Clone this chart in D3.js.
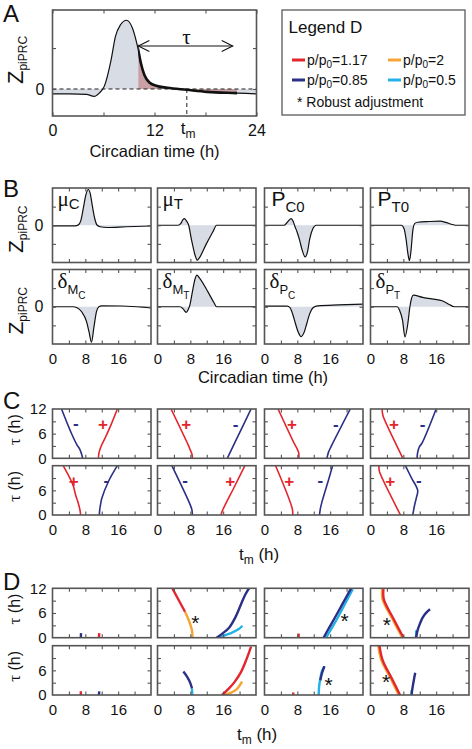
<!DOCTYPE html>
<html><head><meta charset="utf-8">
<script src="https://cdn.jsdelivr.net/npm/d3@7"></script>
<style>body{margin:0;background:#fff}svg{display:block}</style>
</head><body><svg id="fig" width="472" height="749"></svg>
<script>
// ================= DATA =================
// Panel A : example piPRC
const aTime = [0,2,4,4.9,5.5,6.1,6.9,7.4,8.0,8.7,9.4,10.0,10.4,10.8,11.4,12.2,13.5,15.8,18.2,21.7,24];
const aZ    = [-0.12,-0.12,-0.13,-0.18,-0.1,0.07,0.72,1.28,1.57,1.68,1.49,1.04,0.63,0.35,0.16,0.08,0.03,-0.02,-0.07,-0.1,-0.12];
const aTauStart = 10.1, aTauEnd = 21.2, aFillEnd = 21.7, aTm = 15.8, aArrowLevel = 1.05;
const aXTicks = [0,6,12,18,24], aXLabels = [0,12,24], aYTicks = [0,1];

// Panel B : piPRCs per parameter  [t, z]
const bMuC     = [[0,-0.03],[5.5,-0.03],[6.3,0.02],[6.9,0.25],[7.5,0.9],[8.1,1.6],[8.7,1.92],[9.2,1.7],[9.7,1.05],[10.3,0.35],[10.9,0.0],[11.6,-0.08],[13.3,-0.12],[18,-0.08],[24,-0.04]];
const bMuT     = [[0,0],[5,0],[5.7,0.1],[6.2,0.3],[6.6,0.36],[7.0,0.25],[7.6,0],[8.25,-0.75],[8.7,-1.2],[9.1,-1.57],[9.7,-1.87],[10.2,-1.75],[11.9,-1.0],[13.5,-0.35],[14.4,0],[24,0]];
const bPC0     = [[0,0],[4.8,0],[5.5,0.15],[6.5,0.36],[7.0,0.2],[7.4,-0.05],[8.0,-0.4],[8.5,-0.76],[9.2,-1.35],[9.9,-1.7],[10.5,-1.4],[11.0,-0.76],[11.8,-0.18],[12.6,0],[24,0]];
const bPT0     = [[0,0],[7.5,0],[8.2,-0.2],[8.7,-0.8],[9.1,-1.5],[9.5,-1.9],[9.9,-1.3],[10.3,-0.3],[10.8,0.1],[11.5,0.16],[14.3,0.2],[17,0.22],[18.5,0.14],[20,0.04],[21,0],[24,0]];
const bDeltaMC = [[0,0],[5,0],[6,-0.05],[7.1,-0.27],[8.3,-0.8],[8.9,-1.35],[9.5,-1.9],[10.1,-1.08],[10.7,-0.27],[11.3,0],[12,0.05],[17,0.04],[22,-0.02],[24,-0.06]];
const bDeltaMT = [[0,0],[5.5,0],[6.2,-0.1],[7.0,-0.3],[7.5,-0.15],[7.9,0.1],[8.5,0.8],[9.1,1.45],[9.6,1.7],[10.2,1.55],[12.3,0.8],[13.8,0.2],[14.4,0],[24,0]];
const bDeltaPC = [[0,0.03],[5.5,0.03],[6.2,-0.05],[6.8,-0.35],[7.3,-0.72],[8.2,-1.35],[8.9,-1.6],[9.7,-1.35],[10.3,-0.9],[10.9,-0.45],[11.9,-0.04],[13,0.05],[18,0.1],[24,0.14]];
const bDeltaPT = [[0,0],[6.5,0],[7.1,-0.2],[7.8,-0.72],[8.4,-1.62],[9.1,-0.9],[9.6,0],[10.0,0.45],[10.4,0.62],[12.7,0.5],[15,0.42],[17.6,0.31],[19.2,0.12],[20.4,0],[24,0]];
const bSymbol  = ["μ","μ","P","P","δ","δ","δ","δ"];
const bSub     = ["C","T","C0","T0","M","M","P","P"];
const bSubSub  = ["","","","","C","T","C","T"];
const bXTicks = [4,8,12,16,20], bXLabels = [0,8,16], bYTicks = [-1,0,1];

// Panel C : [t_m, tau] curves for + (red) and - (blue) pulses
const cRed = [
  [[11.2,0],[11.3,1.2],[11.8,2.8],[12.8,4.9],[14.2,8],[15.8,12]],
  [[8.5,0],[8.4,1],[8.0,2],[7.5,3.2],[3.3,12]],
  [[8.4,0],[8.3,1.5],[7.8,2.6],[7.4,3.3],[3.3,12]],
  [[7.9,0],[3.1,10.2],[2.9,11],[2.85,12]],
  [[6.85,0],[6.7,1.2],[6.3,2.8],[5.6,5],[5.0,7.3],[2.6,12]],
  [[15.5,0],[15.8,1],[18.8,7],[21.3,12]],
  [[6.9,0],[6.75,1.6],[2.7,12]],
  [[7.3,0],[2.3,10.2],[2.1,11],[2.05,12]]
];
const cBlue = [
  [[7.35,0],[7.1,1],[6.6,2.3],[6.0,3.2],[4.6,6.1],[2.2,12]],
  [[17.0,0],[19.9,6],[22.8,12]],
  [[15.2,0],[15.6,1.5],[16.3,3],[20.9,12]],
  [[11.35,0],[11.5,1.5],[11.9,2.8],[12.5,3.6],[16.0,12]],
  [[11.4,0],[11.5,1.2],[11.7,2.5],[12.0,4],[13.6,8.1],[15.8,12]],
  [[8.5,0],[8.4,1.2],[8.0,2.4],[3.5,12]],
  [[13.4,0],[13.6,1.5],[14.0,3.2],[15.7,8.9],[16.6,12]],
  [[10.3,0],[10.7,2.2],[11.2,4.3],[11.5,6],[10.0,9],[8.5,12]]
];
const cPlus  = [[12.3,8.3],[7.0,8.3],[6.7,8.3],[5.7,8.3],[5.2,8.3],[17.7,8.3],[6.0,8.3],[4.8,8.3]];
const cMinus = [[5.7,8.3],[19.0,8.1],[17.4,8.1],[12.7,8.1],[13.1,8.3],[6.7,8.3],[13.6,8.3],[11.8,8.3]];
const tauTicks = [3,6,9], tauLabelsTop = [0,6,12], tauLabelsBottom = [0,6];

// Panel D : [t_m, tau] curves for each p/p0
const dRed = [
  [[11.3,0],[11.4,1.1]],
  [[3.6,12],[6.7,6.3]],
  [[8.3,0],[8.3,1]],
  [[3.15,11.8],[3.25,9.3],[5.6,4.6],[8.05,0]],
  [[6.9,0],[6.9,0.9]],
  [[15.7,0],[17.3,1.5],[18.8,3.2],[20.3,5.5],[21.6,8.5],[22.8,11.8]],
  [[7.0,0],[7.0,0.6]],
  [[2.15,12.2],[2.95,8.5],[5.05,4.3],[7.2,0]]
];
const dOrange = [
  null,
  [[6.7,6.3],[7.6,4.3],[8.3,2.2],[8.5,1],[8.5,0]],
  null,
  [[2.85,11.8],[2.95,9.3],[5.3,4.6],[7.75,0]],
  null,
  [[16.0,0],[17.8,0.5],[19.2,1.3],[20.2,2.6],[20.6,3.3]],
  null,
  [[1.85,12.2],[2.65,8.5],[4.75,4.3],[6.9,0]]
];
const dNavy = [
  [[6.9,0],[6.95,1.1]],
  [[14.4,0],[15.8,1],[17.5,2.5],[19,5],[20.3,8],[21.4,10.5],[22.3,12]],
  [[14.4,0],[15.5,2],[17,4.6],[19,8.2],[21.1,12]],
  [[11.1,0],[11.5,1.9],[12.0,3.3],[12.7,4.9],[13.6,6.1],[14.5,6.9]],
  [[11.3,0],[11.4,0.9]],
  [[6.3,5.7],[7.3,4.3],[8.0,2.9],[8.4,1.6]],
  [[13.6,3.6],[14.0,5.3],[14.6,7]],
  [[10.0,0],[10.2,1.5],[10.5,3.3],[10.9,5.4]]
];
const dCyan = [
  null,
  [[14.9,0],[16.5,0.6],[18.3,1.3],[19.8,2.1],[20.7,2.9]],
  [[15.0,0],[16.2,2],[17.7,4.6],[19.6,8.2],[21.5,11.8]],
  [[11.1,0],[11.15,1.8]],
  null,
  [[8.4,1.6],[8.5,0]],
  [[13.2,0],[13.3,2],[13.6,4],[14.0,5.8],[14.6,7]],
  [[10.0,0],[10.05,1.2]]
];
const dStar = [null,[9.2,4.5],[19.5,5.1],[4.0,4.1],null,null,[15.6,3.4],[3.8,4.1]];

// Legend D
const legendValues = ["1.17","2","0.85","0.5"];
const legendKeys   = ["red","orange","navy","cyan"];

// ================= STYLE / LAYOUT =================
const COLORS = {red:"#e3262d", orange:"#f4a535", navy:"#2b2f86", cyan:"#22b2e8"};
const SANS = "'Liberation Sans', Arial, Helvetica, sans-serif";
const SERIF = "'Liberation Serif', 'Times New Roman', serif";
const FRAME = "#555";
const GREY_FILL = "#d8dce5";
const RED_FILL = "#c9a0a3";
const COL_X = [52.5, 157.5, 264.5, 370.5], COL_W = 98.5;
const B_ROWS = [[188,262.5],[269.5,344]];
const C_ROWS = [[409,458.3],[465.7,515]];
const D_ROWS = [[588.3,637.7],[645.7,695]];

const svg = d3.select("#fig");
svg.append("rect").attr("width",472).attr("height",749).attr("fill","#fff");
let clipId = 0;

function makePanel(x0, y0, w, h, xd, yd) {
  const x = d3.scaleLinear().domain(xd).range([x0, x0 + w]);
  const y = d3.scaleLinear().domain(yd).range([y0 + h, y0]);
  const id = "clip" + (clipId++);
  svg.append("clipPath").attr("id", id).append("rect").attr("x", x0).attr("y", y0).attr("width", w).attr("height", h);
  const g = svg.append("g").attr("clip-path", `url(#${id})`);
  return {x, y, x0, y0, w, h, g};
}
function drawFrame(p, xt, yt) {
  const g = svg.append("g");
  const axes = [
    [d3.axisBottom(p.x).tickValues(xt), `translate(0,${p.y0 + p.h})`],
    [d3.axisTop(p.x).tickValues(xt), `translate(0,${p.y0})`],
    [d3.axisLeft(p.y).tickValues(yt), `translate(${p.x0},0)`],
    [d3.axisRight(p.y).tickValues(yt), `translate(${p.x0 + p.w},0)`]
  ];
  axes.forEach(([ax, tr]) => {
    g.append("g").attr("transform", tr).call(ax.tickSize(-3.5).tickFormat(""))
      .call(s => { s.select(".domain").remove(); s.selectAll("line").attr("stroke", FRAME).attr("stroke-width", 1.1); });
  });
  g.append("rect").attr("x", p.x0).attr("y", p.y0).attr("width", p.w).attr("height", p.h)
    .attr("fill", "none").attr("stroke", FRAME).attr("stroke-width", 1.6);
}
function styleLabels(s, size) {
  s.select(".domain").remove();
  s.selectAll("text").attr("font-size", size).attr("font-family", SANS).attr("fill", "#111");
}
function xLabels(p, vals, pad, size) {
  svg.append("g").attr("transform", `translate(0,${p.y0 + p.h})`)
    .call(d3.axisBottom(p.x).tickValues(vals).tickSize(0).tickPadding(pad).tickFormat(d3.format("d")))
    .call(s => styleLabels(s, size));
}
function yLabels(p, vals, pad, size) {
  svg.append("g").attr("transform", `translate(${p.x0},0)`)
    .call(d3.axisLeft(p.y).tickValues(vals).tickSize(0).tickPadding(pad).tickFormat(d3.format("d")))
    .call(s => styleLabels(s, size));
}
function rotLabel(x, y, parts) {
  const t = svg.append("text").attr("transform", `translate(${x},${y}) rotate(-90)`)
    .attr("text-anchor", "middle").attr("font-family", SANS).attr("fill", "#111");
  parts.forEach(pt => {
    const s = t.append("tspan").text(pt.text).attr("font-size", pt.size);
    if (pt.dy) s.attr("dy", pt.dy);
    if (pt.family) s.attr("font-family", pt.family);
  });
}
function panelLetter(ch, x, y) {
  svg.append("text").attr("x", x).attr("y", y).attr("font-family", SANS).attr("font-size", 24).attr("fill", "#111").text(ch);
}

// ================= PANEL A =================
const aData = aTime.map((t, i) => [t, aZ[i]]);
const pA = makePanel(52.5, 10, 204, 106, [0, 24], [-0.66, 1.93]);
const areaA = d3.area().x(d => pA.x(d[0])).y0(pA.y(0)).y1(d => pA.y(d[1])).curve(d3.curveMonotoneX);
const lineA = d3.line().x(d => pA.x(d[0])).y(d => pA.y(d[1])).curve(d3.curveMonotoneX);
pA.g.append("path").datum(aData).attr("d", areaA).attr("fill", GREY_FILL);
svg.append("clipPath").attr("id", "clipAred").append("rect")
  .attr("x", pA.x(aTauStart)).attr("y", pA.y0).attr("width", pA.x(aFillEnd) - pA.x(aTauStart)).attr("height", pA.h);
pA.g.append("path").datum(aData).attr("d", areaA).attr("fill", RED_FILL).attr("clip-path", "url(#clipAred)");
pA.g.append("line").attr("x1", pA.x(0)).attr("x2", pA.x(24)).attr("y1", pA.y(0)).attr("y2", pA.y(0))
  .attr("stroke", "#222").attr("stroke-width", 1).attr("stroke-dasharray", "4,3");
pA.g.append("line").attr("x1", pA.x(aTm)).attr("x2", pA.x(aTm)).attr("y1", pA.y(0)).attr("y2", pA.y0 + pA.h)
  .attr("stroke", "#222").attr("stroke-width", 1).attr("stroke-dasharray", "4,3");
pA.g.append("path").datum(aData).attr("d", lineA).attr("fill", "none").attr("stroke", "#111").attr("stroke-width", 1.2);
pA.g.append("path").datum(aData).attr("d", lineA).attr("fill", "none").attr("stroke", "#111").attr("stroke-width", 2.6).attr("clip-path", "url(#clipAred)");
// tau arrow
{
  const ya = pA.y(aArrowLevel), xa = pA.x(aTauStart), xb = pA.x(aTauEnd);
  const ag = svg.append("g").attr("stroke", "#111").attr("stroke-width", 1.1).attr("fill", "none");
  ag.append("line").attr("x1", xa).attr("x2", xb).attr("y1", ya).attr("y2", ya);
  ag.append("path").attr("d", `M${xa + 11},${ya - 5.5}L${xa},${ya}L${xa + 11},${ya + 5.5}`);
  ag.append("path").attr("d", `M${xb - 11},${ya - 5.5}L${xb},${ya}L${xb - 11},${ya + 5.5}`);
  svg.append("text").attr("x", pA.x((aTauStart + aTauEnd) / 2) + 1).attr("y", ya - 2).attr("text-anchor", "middle")
    .attr("font-family", SERIF).attr("font-size", 21).attr("fill", "#111").text("τ");
}
drawFrame(pA, aXTicks, aYTicks);
xLabels(pA, aXLabels, 9, 16);
yLabels(pA, [0], 8, 16);
{
  const t = svg.append("text").attr("x", pA.x(aTm) - 6).attr("y", pA.y0 + pA.h + 18).attr("font-family", SANS).attr("fill", "#111");
  t.append("tspan").attr("font-size", 17).text("t");
  t.append("tspan").attr("font-size", 12).attr("dy", 3.5).text("m");
}
svg.append("text").attr("x", 154.5).attr("y", 157).attr("text-anchor", "middle").attr("font-family", SANS)
  .attr("font-size", 16.5).attr("fill", "#111").text("Circadian time (h)");
rotLabel(23, 60, [{text: "Z", size: 22}, {text: "piPRC", size: 12, dy: 4}]);
panelLetter("A", 3, 22);

// Legend
{
  const lg = svg.append("g");
  lg.append("rect").attr("x", 282).attr("y", 10).attr("width", 183).attr("height", 105)
    .attr("fill", "#fff").attr("stroke", "#666").attr("stroke-width", 1.4);
  lg.append("text").attr("x", 288.5).attr("y", 33).attr("font-family", SANS).attr("font-size", 17).attr("fill", "#111").text("Legend D");
  const pos = [[292, 60], [388, 60], [292, 80], [388, 80]];
  legendValues.forEach((v, i) => {
    const [lx, ly] = pos[i];
    lg.append("line").attr("x1", lx).attr("x2", lx + 13).attr("y1", ly).attr("y2", ly)
      .attr("stroke", COLORS[legendKeys[i]]).attr("stroke-width", 3);
    const t = lg.append("text").attr("x", lx + 15).attr("y", ly + 4.5).attr("font-family", SANS).attr("font-size", 14).attr("fill", "#111");
    t.append("tspan").text("p/p");
    t.append("tspan").attr("font-size", 10).attr("dy", 3).text("0");
    t.append("tspan").attr("dy", -3).text("=" + v);
  });
  lg.append("text").attr("x", 297).attr("y", 107).attr("font-family", SANS).attr("font-size", 14).attr("fill", "#111").text("* Robust adjustment");
}

// ================= PANEL B =================
const bCurves = [bMuC, bMuT, bPC0, bPT0, bDeltaMC, bDeltaMT, bDeltaPC, bDeltaPT];
bCurves.forEach((pts, i) => {
  const r = Math.floor(i / 4), c = i % 4;
  const p = makePanel(COL_X[c], B_ROWS[r][0], COL_W, B_ROWS[r][1] - B_ROWS[r][0], [0, 24], [-2, 2]);
  const area = d3.area().x(d => p.x(d[0])).y0(p.y(0)).y1(d => p.y(d[1])).curve(d3.curveMonotoneX);
  const line = d3.line().x(d => p.x(d[0])).y(d => p.y(d[1])).curve(d3.curveMonotoneX);
  p.g.append("path").datum(pts).attr("d", area).attr("fill", GREY_FILL);
  p.g.append("path").datum(pts).attr("d", line).attr("fill", "none").attr("stroke", "#111").attr("stroke-width", 1.2);
  drawFrame(p, bXTicks, bYTicks);
  // label
  const sym = bSymbol[i];
  const isGreek = sym !== "P";
  const t = svg.append("text").attr("x", p.x0 + (isGreek ? 5 : 7)).attr("y", p.y0 + 18)
    .attr("font-family", SANS).attr("fill", "#111");
  t.append("tspan").attr("font-family", isGreek ? SERIF : SANS).attr("font-size", 21).text(sym);
  t.append("tspan").attr("font-size", bSubSub[i] ? 13 : 15).attr("dy", isGreek && !bSubSub[i] ? 3 : 6).text(bSub[i]);
  if (bSubSub[i]) t.append("tspan").attr("font-size", 10).attr("dy", 5).text(bSubSub[i]);
  if (r === 1) xLabels(p, bXLabels, 9, 15);
  if (c === 0) {
    yLabels(p, [0], 9, 16);
    rotLabel(23, (p.y0 + p.y0 + p.h) / 2 + 4, [{text: "Z", size: 21}, {text: "piPRC", size: 12, dy: 4}]);
  }
});
svg.append("text").attr("x", 263).attr("y", 383).attr("text-anchor", "middle").attr("font-family", SANS)
  .attr("font-size", 16.5).attr("fill", "#111").text("Circadian time (h)");
panelLetter("B", 3, 197);

// ================= PANEL C & D helpers =================
function tauPanel(rows, i) {
  const r = Math.floor(i / 4), c = i % 4;
  return makePanel(COL_X[c], rows[r][0], COL_W, rows[r][1] - rows[r][0], [0, 24], [0, 12]);
}
function tauDecor(p, i) {
  const r = Math.floor(i / 4), c = i % 4;
  drawFrame(p, bXTicks, tauTicks);
  if (r === 1) xLabels(p, bXLabels, 9, 15);
  if (c === 0) {
    yLabels(p, r === 0 ? tauLabelsTop : tauLabelsBottom, 6, 15);
    rotLabel(20, (p.y0 + p.y0 + p.h) / 2 - 4, [{text: "τ", size: 17, family: SERIF}, {text: " (h)", size: 16}]);
  }
}
const curveT = d3.curveCatmullRom.alpha(0.5);

// ================= PANEL C =================
cRed.forEach((redPts, i) => {
  const p = tauPanel(C_ROWS, i);
  const line = d3.line().x(d => p.x(d[0])).y(d => p.y(d[1])).curve(curveT);
  p.g.append("path").datum(redPts).attr("d", line).attr("fill", "none").attr("stroke", COLORS.red).attr("stroke-width", 1.6);
  p.g.append("path").datum(cBlue[i]).attr("d", line).attr("fill", "none").attr("stroke", COLORS.navy).attr("stroke-width", 1.6);
  svg.append("text").attr("x", p.x(cPlus[i][0])).attr("y", p.y(cPlus[i][1]) + 6).attr("text-anchor", "middle")
    .attr("font-family", SANS).attr("font-weight", "bold").attr("font-size", 17).attr("fill", COLORS.red).text("+");
  svg.append("text").attr("x", p.x(cMinus[i][0])).attr("y", p.y(cMinus[i][1]) + 5).attr("text-anchor", "middle")
    .attr("font-family", SANS).attr("font-weight", "bold").attr("font-size", 17).attr("fill", COLORS.navy).text("-");
  tauDecor(p, i);
});
{
  const t = svg.append("text").attr("x", 239).attr("y", 560).attr("font-family", SANS).attr("fill", "#111");
  t.append("tspan").attr("font-size", 17).text("t");
  t.append("tspan").attr("font-size", 12).attr("dy", 4).text("m");
  t.append("tspan").attr("font-size", 17).attr("dy", -4).text(" (h)");
}
panelLetter("C", 3, 409);

// ================= PANEL D =================
dRed.forEach((_, i) => {
  const p = tauPanel(D_ROWS, i);
  const line = d3.line().x(d => p.x(d[0])).y(d => p.y(d[1])).curve(curveT);
  [["orange", dOrange], ["red", dRed], ["cyan", dCyan], ["navy", dNavy]].forEach(([k, arr]) => {
    if (arr[i]) p.g.append("path").datum(arr[i]).attr("d", line).attr("fill", "none")
      .attr("stroke", COLORS[k]).attr("stroke-width", 2.4);
  });
  if (dStar[i]) svg.append("text").attr("x", p.x(dStar[i][0])).attr("y", p.y(dStar[i][1]) + 11).attr("text-anchor", "middle")
    .attr("font-family", SANS).attr("font-size", 21).attr("fill", "#111").text("*");
  tauDecor(p, i);
});
{
  const t = svg.append("text").attr("x", 237).attr("y", 740).attr("font-family", SANS).attr("fill", "#111");
  t.append("tspan").attr("font-size", 17).text("t");
  t.append("tspan").attr("font-size", 12).attr("dy", 4).text("m");
  t.append("tspan").attr("font-size", 17).attr("dy", -4).text(" (h)");
}
panelLetter("D", 3, 590);
</script></body></html>
